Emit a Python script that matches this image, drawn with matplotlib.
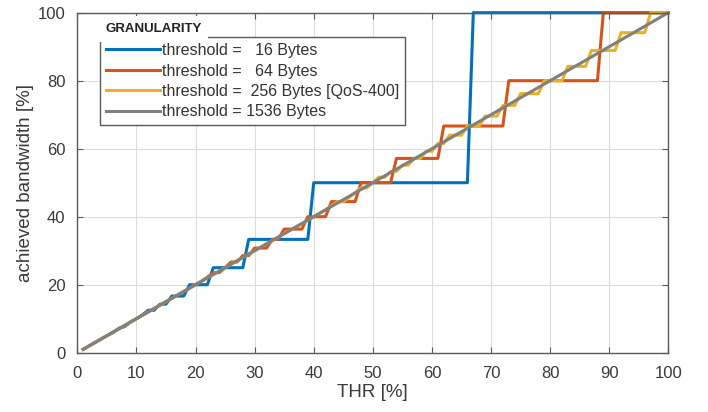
import matplotlib.pyplot as plt

plt.rcParams['font.family'] = ['Liberation Sans', 'DejaVu Sans']

# THR [%] / achieved bandwidth [%] (integer THR samples)
thr_16 = [1, 2, 3, 4, 5, 6, 7, 8, 9, 10, 11, 12, 13, 14, 15, 16, 18, 19, 22, 23, 28, 29, 39, 40, 66, 67, 100]
bw_16 = [1, 2, 3.03, 4, 5, 5.88, 7.14, 7.69, 9.09, 10, 11.11, 12.5, 12.5, 14.29, 14.29, 16.67, 16.67,
         20, 20, 25, 25, 33.33, 33.33, 50, 50, 100, 100]

thr_64 = [1, 20, 21, 22, 23, 24, 25, 26, 27, 28, 29, 30, 32, 33, 34, 35, 38, 39, 42, 43, 47, 48, 53,
          54, 61, 62, 72, 73, 88, 89, 100]
bw_64 = [1, 20, 21.05, 22.22, 23.53, 23.53, 25, 26.67, 26.67, 28.57, 28.57, 30.77, 30.77, 33.33, 33.33,
         36.36, 36.36, 40, 40, 44.44, 44.44, 50, 50, 57.14, 57.14, 66.67, 66.67, 80, 80, 100, 100]

thr_256 = [1, 40, 41, 42, 43, 44, 45, 46, 47, 48, 49, 50, 51, 52, 53, 54, 55, 56, 57, 58, 59, 60, 61,
           62, 63, 65, 66, 68, 69, 71, 72, 74, 75, 78, 79, 82, 83, 86, 87, 91, 92, 96, 97, 100]
bw_256 = [1, 40, 41.03, 42.11, 43.24, 44.44, 44.44, 45.71, 47.06, 48.48, 48.48, 50, 51.61, 51.61, 53.33,
          53.33, 55.17, 55.17, 57.14, 57.14, 59.26, 59.26, 61.54, 61.54, 64, 64, 66.67, 66.67, 69.57,
          69.57, 72.73, 72.73, 76.19, 76.19, 80, 80, 84.21, 84.21, 88.89, 88.89, 94.12, 94.12, 100, 100]

thr_1536 = [1, 100]
bw_1536 = [1, 100]

labels = ['threshold =   16 Bytes', 'threshold =   64 Bytes',
          'threshold =  256 Bytes [QoS-400]', 'threshold = 1536 Bytes']
colors = ['#0072BD', '#D95319', '#EDB120', '#808080']

fig = plt.figure(figsize=(7.08, 4.12), dpi=100)
ax = fig.add_axes([0.1092, 0.1439, 0.8348, 0.8253])

series = [(thr_16, bw_16), (thr_64, bw_64), (thr_256, bw_256), (thr_1536, bw_1536)]
for (x, y), lab, c in zip(series, labels, colors):
    ax.plot(x, y, color=c, lw=2.2, label=lab, clip_on=False)

ax.set_xlim(0, 100)
ax.set_ylim(0, 100)
ax.set_xticks(range(0, 101, 10))
ax.set_yticks(range(0, 101, 20))
ax.grid(True, color='#dcdcdc', lw=0.8)
ax.set_axisbelow(True)
for s in ax.spines.values():
    s.set_color('#5a5a5a')
    s.set_linewidth(1.0)
ax.tick_params(direction='in', top=True, right=True, length=4, color='#5a5a5a',
               labelsize=12, labelcolor='#3a3a3a')
ax.tick_params(axis='x', pad=9.5)
ax.tick_params(axis='y', pad=8.5)
ax.set_xlabel('THR [%]', fontsize=13.5, color='#3a3a3a', labelpad=2)
ax.set_ylabel('achieved bandwidth [%]', fontsize=13.5, color='#3a3a3a', labelpad=3)

leg = ax.legend(loc='upper left', bbox_to_anchor=(0.038, 0.9285), borderaxespad=0,
                fontsize=11.5, handlelength=3.4, handletextpad=0.1, labelspacing=0.34,
                borderpad=0.38, fancybox=False, framealpha=1, edgecolor='#5a5a5a')
leg.get_frame().set_linewidth(1.0)
for t in leg.get_texts():
    t.set_color('#333333')

ax.text(0.047, 0.953, 'GRANULARITY', transform=ax.transAxes, fontsize=9.5, fontweight='bold',
        color='#222222', va='center', ha='left', zorder=10,
        bbox=dict(facecolor='white', edgecolor='none', pad=5))

fig.savefig('out.png', dpi=100)
